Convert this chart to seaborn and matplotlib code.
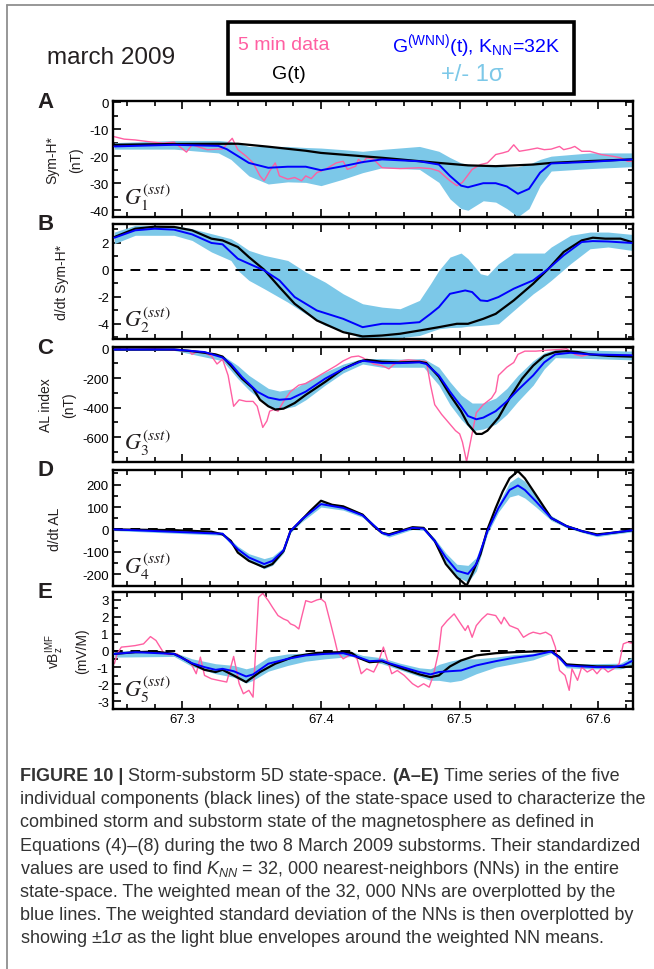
import matplotlib
matplotlib.use("Agg")
import matplotlib.pyplot as plt
import seaborn as sns
from matplotlib.ticker import MultipleLocator
from matplotlib.lines import Line2D
from matplotlib.patches import Rectangle

# ---------------- data (day of year 2009) ----------------
A_black_t = [67.251, 67.294, 67.340, 67.362, 67.389, 67.400, 67.444, 67.485, 67.506, 67.526, 67.553, 67.566, 67.594, 67.624]
A_black = [-15.8, -15.5, -15.4, -16.5, -18.0, -18.8, -20.6, -22.5, -23.4, -23.7, -23.1, -22.5, -21.8, -21.2]
A_blue_t = [67.251, 67.294, 67.326, 67.332, 67.348, 67.362, 67.376, 67.389, 67.400, 67.416, 67.430, 67.444, 67.471,
            67.485, 67.493, 67.501, 67.506, 67.517, 67.526, 67.534, 67.542, 67.550, 67.558, 67.566, 67.594, 67.624]
A_blue = [-16.4, -15.8, -16.2, -17.4, -22.5, -24.3, -23.9, -23.9, -25.2, -23.7, -22.2, -21.2, -21.9,
          -23.1, -27.3, -30.9, -31.5, -30.0, -30.0, -31.2, -33.9, -32.1, -26.1, -22.7, -22.1, -21.2]
A_band_t = [67.251, 67.294, 67.326, 67.335, 67.348, 67.362, 67.376, 67.389, 67.400, 67.416, 67.430, 67.444, 67.471,
            67.485, 67.493, 67.501, 67.506, 67.517, 67.526, 67.534, 67.542, 67.550, 67.558, 67.566, 67.594, 67.624]
A_upper = [-15.0, -14.2, -14.2, -14.6, -16.4, -16.4, -16.4, -16.8, -17.0, -17.6, -18.2, -17.5, -16.4,
           -18.2, -20.5, -22.5, -23.0, -23.4, -23.6, -23.9, -23.9, -23.0, -21.2, -20.0, -18.8, -18.8]
A_lower = [-17.4, -17.4, -18.8, -21.2, -27.3, -30.3, -29.5, -29.7, -30.9, -28.5, -26.1, -24.3, -24.9,
           -29.7, -35.8, -39.4, -40.0, -36.5, -37.0, -39.4, -42.4, -39.4, -30.9, -25.5, -24.6, -23.9]
A_pink_t = [67.251, 67.258, 67.266, 67.275, 67.286, 67.294, 67.303, 67.307, 67.318, 67.329, 67.336, 67.340, 67.346,
            67.351, 67.356, 67.359, 67.363, 67.367, 67.370, 67.376, 67.381, 67.386, 67.389, 67.393, 67.397, 67.403,
            67.411, 67.416, 67.419, 67.425, 67.427, 67.430, 67.433, 67.438, 67.444, 67.457, 67.471, 67.479, 67.485,
            67.493, 67.498, 67.502, 67.509, 67.515, 67.520, 67.526, 67.531, 67.535, 67.539, 67.543, 67.550, 67.556,
            67.561, 67.566, 67.572, 67.575, 67.580, 67.583, 67.588, 67.594, 67.602, 67.610, 67.616, 67.621, 67.624]
A_pink = [-12.8, -13.7, -14.0, -14.6, -15.2, -14.8, -18.5, -15.8, -17.6, -17.3, -13.4, -17.6, -20.0,
          -22.5, -27.3, -29.1, -25.5, -22.5, -27.3, -28.5, -27.9, -29.1, -27.3, -28.3, -26.1, -24.9,
          -22.5, -21.9, -24.9, -23.7, -21.2, -22.5, -20.6, -21.2, -24.3, -24.6, -24.3, -24.6, -25.5,
          -29.1, -30.9, -29.7, -24.9, -23.1, -22.5, -19.4, -18.8, -18.2, -15.8, -18.2, -17.6, -17.0,
          -17.6, -17.4, -16.4, -17.6, -17.0, -16.4, -18.2, -18.2, -19.4, -20.0, -20.6, -21.9, -21.9]

B_black_t = [67.251, 67.266, 67.280, 67.294, 67.307, 67.321, 67.329, 67.340, 67.348, 67.359, 67.370, 67.381, 67.397,
             67.416, 67.430, 67.444, 67.457, 67.471, 67.485, 67.498, 67.506, 67.517, 67.526, 67.539, 67.553, 67.564,
             67.575, 67.588, 67.596, 67.605, 67.616, 67.624]
B_black = [2.43, 3.05, 3.20, 3.18, 2.93, 2.31, 2.18, 1.69, 0.94, 0.0, -1.29, -2.53, -3.77,
           -4.64, -4.96, -4.89, -4.76, -4.52, -4.27, -4.02, -4.02, -3.65, -3.28, -2.28, -1.04, 0.07,
           1.32, 2.18, 2.38, 2.31, 2.31, 2.06]
B_blue_t = [67.251, 67.266, 67.280, 67.294, 67.307, 67.321, 67.329, 67.340, 67.348, 67.359, 67.370, 67.381, 67.397,
            67.416, 67.430, 67.444, 67.457, 67.471, 67.479, 67.485, 67.493, 67.504, 67.509, 67.515, 67.520, 67.528,
            67.539, 67.553, 67.564, 67.575, 67.588, 67.596, 67.607, 67.624]
B_blue = [2.38, 2.93, 3.05, 2.98, 2.63, 1.99, 1.89, 0.82, 0.45, -0.05, -0.79, -2.03, -3.03,
          -3.65, -4.27, -4.02, -4.02, -3.90, -3.28, -2.78, -1.79, -1.54, -1.66, -2.28, -2.33, -2.03,
          -1.41, -0.79, 0.07, 1.07, 2.06, 2.13, 2.10, 1.99]
B_band_t = [67.251, 67.266, 67.294, 67.307, 67.321, 67.335, 67.340, 67.348, 67.359, 67.376, 67.389, 67.403, 67.416,
            67.430, 67.444, 67.457, 67.471, 67.479, 67.485, 67.493, 67.501, 67.506, 67.515, 67.520, 67.528, 67.539,
            67.553, 67.561, 67.566, 67.580, 67.594, 67.607, 67.624]
B_upper = [2.80, 3.30, 3.30, 3.05, 2.68, 2.31, 2.00, 1.44, 1.07, 0.69, -0.17, -0.92, -1.79,
           -2.53, -2.78, -2.90, -2.28, -1.04, -0.05, 0.94, 1.24, 0.82, -0.30, -0.42, 0.45, 1.24,
           1.24, 1.24, 1.69, 2.56, 2.80, 2.80, 2.63]
B_lower = [1.94, 2.56, 2.56, 2.18, 1.32, 0.69, -0.05, -0.79, -1.41, -2.41, -3.28, -4.14, -4.52,
           -5.14, -5.01, -5.05, -4.89, -4.60, -4.39, -4.30, -4.27, -4.20, -4.14, -4.10, -4.02, -3.03,
           -1.79, -1.20, -0.79, 0.45, 1.56, 1.69, 1.44]

C_black_t = [67.251, 67.294, 67.307, 67.316, 67.324, 67.329, 67.335, 67.343, 67.351, 67.356, 67.362, 67.367, 67.373,
             67.381, 67.389, 67.403, 67.416, 67.427, 67.433, 67.438, 67.444, 67.457, 67.471, 67.476, 67.485, 67.493,
             67.501, 67.506, 67.512, 67.516, 67.520, 67.528, 67.536, 67.545, 67.553, 67.561, 67.569, 67.577, 67.585,
             67.594, 67.607, 67.624]
C_black = [-7, -7, -18, -29, -40, -55, -116, -204, -270, -347, -391, -413, -407,
           -369, -314, -226, -138, -90, -77, -83, -90, -94, -90, -99, -191, -314,
           -424, -512, -578, -578, -556, -468, -336, -204, -116, -50, -24, -18, -24,
           -40, -50, -55]
C_blue_t = [67.251, 67.294, 67.316, 67.329, 67.335, 67.343, 67.354, 67.362, 67.370, 67.378, 67.389, 67.403, 67.416,
            67.430, 67.444, 67.457, 67.471, 67.476, 67.485, 67.493, 67.501, 67.506, 67.512, 67.517, 67.526, 67.534,
            67.542, 67.553, 67.561, 67.569, 67.580, 67.594, 67.624]
C_blue = [-7, -7, -24, -61, -105, -193, -292, -332, -347, -341, -292, -204, -138,
          -83, -99, -99, -94, -105, -182, -292, -391, -457, -479, -468, -424, -358,
          -281, -182, -94, -40, -29, -40, -46]
C_band_t = [67.251, 67.294, 67.329, 67.340, 67.348, 67.362, 67.370, 67.381, 67.389, 67.403, 67.416, 67.430, 67.444,
            67.457, 67.474, 67.485, 67.493, 67.501, 67.509, 67.517, 67.526, 67.534, 67.542, 67.553, 67.561, 67.569,
            67.594, 67.624]
C_upper = [-1, -1, -46, -116, -182, -270, -288, -270, -226, -160, -105, -68, -68,
           -72, -68, -127, -226, -314, -369, -369, -336, -270, -182, -83, -29, -7,
           -11, -18]
C_lower = [-13, -13, -83, -204, -281, -391, -413, -391, -347, -248, -165, -105, -127,
           -127, -127, -248, -380, -479, -556, -545, -512, -446, -358, -248, -138, -62,
           -68, -77]
C_pink_t = [67.251, 67.266, 67.280, 67.294, 67.305, 67.307, 67.310, 67.316, 67.321, 67.325, 67.329, 67.333, 67.337,
            67.341, 67.346, 67.351, 67.354, 67.358, 67.361, 67.363, 67.366, 67.369, 67.373, 67.378, 67.384, 67.389,
            67.397, 67.403, 67.411, 67.416, 67.422, 67.427, 67.430, 67.438, 67.444, 67.449, 67.452, 67.457, 67.463,
            67.471, 67.476, 67.479, 67.482, 67.487, 67.493, 67.497, 67.500, 67.502, 67.505, 67.508, 67.512, 67.517,
            67.523, 67.526, 67.528, 67.534, 67.539, 67.542, 67.547, 67.555, 67.564, 67.572, 67.577, 67.583, 67.588,
            67.594, 67.602, 67.610, 67.624]
C_pink = [-2, -7, -2, -11, -18, -40, -24, -29, -51, -105, -73, -182, -391,
          -347, -358, -358, -391, -534, -490, -424, -413, -424, -358, -292, -248, -237,
          -193, -160, -116, -84, -57, -51, -62, -105, -116, -138, -112, -84, -77,
          -84, -90, -248, -380, -446, -512, -556, -578, -633, -765, -622, -435, -380,
          -336, -292, -182, -127, -95, -40, -18, -18, -11, -7, -2, -40, -51,
          -40, -46, -46, -46]

D_black_t = [67.251, 67.294, 67.321, 67.329, 67.335, 67.340, 67.348, 67.359, 67.365, 67.373, 67.378, 67.384, 67.392,
             67.400, 67.408, 67.416, 67.430, 67.438, 67.444, 67.449, 67.457, 67.466, 67.474, 67.482, 67.490, 67.498,
             67.505, 67.509, 67.515, 67.520, 67.526, 67.531, 67.536, 67.542, 67.547, 67.555, 67.566, 67.577, 67.588,
             67.599, 67.610, 67.624]
D_black = [0, -3, -10, -22, -51, -103, -140, -169, -154, -96, -7, 29, 81,
           128, 110, 103, 66, 15, -15, -22, -7, 10, 7, -51, -154, -213,
           -250, -198, -110, 0, 96, 169, 228, 260, 228, 154, 51, 15, -7,
           -22, -15, -4]
D_blue_t = [67.251, 67.329, 67.340, 67.348, 67.359, 67.365, 67.373, 67.378, 67.386, 67.400, 67.416, 67.430, 67.444,
            67.449, 67.466, 67.474, 67.482, 67.490, 67.498, 67.506, 67.512, 67.520, 67.528, 67.536, 67.542, 67.547,
            67.555, 67.566, 67.577, 67.588, 67.599, 67.610, 67.624]
D_blue = [0, -19, -88, -125, -154, -140, -93, -7, 44, 113, 96, 63, -15,
          -25, 7, 4, -51, -125, -184, -198, -154, -7, 96, 176, 196, 176,
          125, 51, 15, -7, -25, -15, -4]
D_upper = [5, -12, -75, -108, -130, -120, -80, 0, 55, 123, 106, 72, -8,
           -16, 14, 12, -40, -105, -155, -160, -125, 5, 115, 210, 235, 215,
           150, 62, 22, -1, -18, -8, 3]
D_lower = [-5, -26, -100, -140, -175, -160, -105, -15, 33, 100, 86, 54, -22,
           -34, 0, -4, -62, -145, -210, -235, -185, -20, 78, 145, 155, 140,
           100, 40, 8, -13, -32, -22, -11]

E_black_t = [67.251, 67.266, 67.280, 67.294, 67.299, 67.307, 67.316, 67.324, 67.329, 67.337, 67.346, 67.348, 67.356,
             67.367, 67.381, 67.397, 67.414, 67.422, 67.427, 67.435, 67.444, 67.449, 67.457, 67.471, 67.479, 67.485,
             67.493, 67.501, 67.512, 67.526, 67.539, 67.553, 67.566, 67.572, 67.577, 67.588, 67.599, 67.610, 67.618,
             67.624]
E_black = [-0.20, -0.10, -0.06, -0.20, -0.39, -0.78, -1.14, -1.27, -1.14, -1.47, -1.86, -1.73, -1.27,
           -0.78, -0.35, -0.14, -0.10, -0.14, -0.43, -0.69, -0.63, -0.78, -1.02, -1.41, -1.57, -1.47,
           -0.94, -0.59, -0.29, -0.16, -0.10, -0.06, -0.04, -0.39, -0.82, -0.88, -0.94, -0.94, -0.98,
           -0.94]
E_blue_t = [67.251, 67.266, 67.294, 67.307, 67.316, 67.324, 67.329, 67.337, 67.346, 67.351, 67.362, 67.376, 67.389,
            67.403, 67.416, 67.427, 67.435, 67.444, 67.449, 67.457, 67.471, 67.479, 67.485, 67.493, 67.501, 67.512,
            67.526, 67.539, 67.553, 67.566, 67.572, 67.577, 67.588, 67.599, 67.610, 67.618, 67.624]
E_blue = [-0.20, -0.10, -0.20, -0.75, -0.98, -1.14, -1.08, -1.22, -1.53, -1.41, -0.78, -0.49, -0.29,
          -0.20, -0.16, -0.39, -0.63, -0.59, -0.75, -0.94, -1.27, -1.41, -1.27, -1.22, -1.18, -0.88,
          -0.63, -0.43, -0.29, -0.06, -0.43, -0.88, -0.94, -0.98, -0.98, -0.88, -0.63]
E_band_t = [67.251, 67.294, 67.307, 67.324, 67.337, 67.346, 67.351, 67.362, 67.376, 67.389, 67.403, 67.422, 67.430,
            67.444, 67.457, 67.471, 67.479, 67.485, 67.493, 67.501, 67.512, 67.526, 67.539, 67.553, 67.566, 67.572,
            67.577, 67.594, 67.616, 67.624]
E_upper = [0.00, -0.10, -0.49, -0.78, -0.88, -1.08, -0.98, -0.39, -0.20, -0.15, -0.10, -0.06, -0.29,
           -0.43, -0.75, -1.02, -1.08, -0.82, -0.63, -0.49, -0.49, -0.39, -0.24, -0.16, 0.00, -0.29,
           -0.75, -0.78, -0.75, -0.40]
E_lower = [-0.39, -0.35, -0.94, -1.37, -1.57, -1.92, -1.76, -1.22, -0.88, -0.63, -0.49, -0.35, -0.55,
           -0.78, -1.14, -1.53, -1.76, -1.76, -1.86, -1.76, -1.37, -0.98, -0.78, -0.55, -0.16, -0.55,
           -1.02, -1.08, -1.08, -0.90]
E_pink_t = [67.251, 67.253, 67.256, 67.261, 67.266, 67.272, 67.277, 67.281, 67.287, 67.291, 67.296, 67.301, 67.305,
            67.307, 67.310, 67.313, 67.316, 67.321, 67.326, 67.332, 67.337, 67.341, 67.344, 67.348, 67.351, 67.355,
            67.358, 67.362, 67.365, 67.369, 67.373, 67.376, 67.378, 67.381, 67.384, 67.386, 67.389, 67.393, 67.397,
            67.400, 67.403, 67.407, 67.410, 67.412, 67.416, 67.422, 67.426, 67.429, 67.433, 67.438, 67.441, 67.445,
            67.448, 67.451, 67.455, 67.460, 67.466, 67.470, 67.474, 67.478, 67.481, 67.485, 67.487, 67.491, 67.496,
            67.500, 67.504, 67.506, 67.509, 67.512, 67.516, 67.520, 67.526, 67.530, 67.532, 67.536, 67.542, 67.546,
            67.550, 67.553, 67.558, 67.562, 67.566, 67.569, 67.572, 67.576, 67.579, 67.581, 67.585, 67.588, 67.592,
            67.596, 67.599, 67.603, 67.607, 67.611, 67.615, 67.618, 67.621, 67.624]
E_pink = [-0.78, -0.20, 0.20, 0.24, 0.29, 0.39, 0.82, 0.59, -0.20, -0.24, -0.20, -0.49, -0.59,
          -0.88, -1.37, -0.39, -1.47, -1.67, -1.76, -1.86, -0.35, -1.96, -2.55, -2.35, -2.75, 3.14,
          3.37, 2.94, 2.55, 2.06, 1.86, 1.76, 1.57, 1.47, 1.27, 1.96, 2.94, 2.84, 2.98,
          3.04, 2.84, 1.57, 0.59, -0.10, -0.49, -0.20, -0.49, -1.37, -1.08, -1.27, -0.78, 0.20,
          -0.59, -1.37, -1.18, -1.47, -1.96, -2.16, -1.96, -2.16, -1.47, 0.00, 1.37, 1.76, 2.16,
          1.67, 1.18, 1.47, 0.78, 1.47, 1.86, 2.16, 2.06, 1.57, 1.96, 1.47, 1.27, 0.78,
          0.98, 1.08, 0.98, 1.08, 0.88, 0.20, -1.18, -1.47, -2.35, -1.08, -1.76, -0.98, -1.27,
          -1.08, -1.37, -0.98, -1.27, -1.08, -0.78, 0.39, 0.49, 0.43]

x_ticks = [67.3, 67.4, 67.5, 67.6]
x_tick_labels = ["67.3", "67.4", "67.5", "67.6"]
A_yticks = [0, -10, -20, -30, -40]
B_yticks = [2, 0, -2, -4]
C_yticks = [0, -200, -400, -600]
D_yticks = [200, 100, 0, -100, -200]
E_yticks = [3, 2, 1, 0, -1, -2, -3]
panel_letters = ["A", "B", "C", "D", "E"]
ylabels = ["Sym-H*\n(nT)", "d/dt Sym-H*", "AL index\n(nT)", "d/dt AL",
           "vB$_\\mathregular{z}^\\mathregular{IMF}$\n(mV/M)"]

# ---------------- style ----------------
sns.set_theme(style="ticks")
plt.rcParams["font.family"] = ["Liberation Sans", "DejaVu Sans"]
plt.rcParams["axes.unicode_minus"] = False
plt.rcParams["mathtext.fontset"] = "custom"
plt.rcParams["mathtext.rm"] = "Liberation Sans"
plt.rcParams["mathtext.it"] = "Liberation Sans:italic"
plt.rcParams["mathtext.bf"] = "Liberation Sans:bold"

PINK = "#FF5FA2"
BLUE = "#0000FF"
BAND = "#7CC8E8"
TXT = "#231F20"
CAP = "#333333"

W, H = 654, 970
fig = plt.figure(figsize=(W / 100, H / 100), dpi=100)

# panel pixel boxes (top, bottom)
boxes = [(102, 218), (225, 340), (348, 463), (471, 587), (593, 710)]
left_px, right_px = 113, 633
label_x = [-0.058, -0.085, -0.071, -0.098, -0.046]

panels = [
    dict(pink=(A_pink_t, A_pink), black=(A_black_t, A_black), blue=(A_blue_t, A_blue),
         band=(A_band_t, A_lower, A_upper), ylim=(-42.5, 0.4), yt=A_yticks, minor=5, zero=False),
    dict(pink=None, black=(B_black_t, B_black), blue=(B_blue_t, B_blue),
         band=(B_band_t, B_lower, B_upper), ylim=(-5.15, 3.4), yt=B_yticks, minor=1, zero=True),
    dict(pink=(C_pink_t, C_pink), black=(C_black_t, C_black), blue=(C_blue_t, C_blue),
         band=(C_band_t, C_lower, C_upper), ylim=(-768, 10), yt=C_yticks, minor=100, zero=False),
    dict(pink=None, black=(D_black_t, D_black), blue=(D_blue_t, D_blue),
         band=(D_blue_t, D_lower, D_upper), ylim=(-252, 265), yt=D_yticks, minor=50, zero=True),
    dict(pink=(E_pink_t, E_pink), black=(E_black_t, E_black), blue=(E_blue_t, E_blue),
         band=(E_band_t, E_lower, E_upper), ylim=(-3.45, 3.45), yt=E_yticks, minor=0.5, zero=True),
]

for i, (p, (top, bot)) in enumerate(zip(panels, boxes)):
    ax = fig.add_axes([left_px / W, 1 - bot / H, (right_px - left_px) / W, (bot - top) / H])
    t, lo, hi = p["band"]
    ax.fill_between(t, lo, hi, color=BAND, lw=0, zorder=1)
    if p["zero"]:
        ax.axhline(0, color="black", lw=1.4, ls=(0, (5, 4)), zorder=1.5)
    if p["pink"] is not None:
        sns.lineplot(x=p["pink"][0], y=p["pink"][1], ax=ax, color=PINK, lw=1.0,
                     estimator=None, sort=False, legend=False, zorder=2)
    sns.lineplot(x=p["black"][0], y=p["black"][1], ax=ax, color="black", lw=1.6,
                 estimator=None, sort=False, legend=False, zorder=3)
    sns.lineplot(x=p["blue"][0], y=p["blue"][1], ax=ax, color=BLUE, lw=1.4,
                 estimator=None, sort=False, legend=False, zorder=4)

    ax.set_xlim(67.25, 67.625)
    ax.set_ylim(*p["ylim"])
    ax.set_yticks(p["yt"])
    ax.set_yticklabels([str(v) for v in p["yt"]])
    ax.yaxis.set_minor_locator(MultipleLocator(p["minor"]))
    ax.set_xticks(x_ticks)
    ax.xaxis.set_minor_locator(MultipleLocator(0.02))
    if i == 4:
        ax.set_xticklabels(x_tick_labels)
    else:
        ax.set_xticklabels([])
    ax.tick_params(which="both", direction="in", top=True, right=True, width=1.2,
                   colors="black", labelsize=9.5, pad=3)
    ax.tick_params(which="major", length=6)
    ax.tick_params(which="minor", length=3.5)
    for s in ax.spines.values():
        s.set_linewidth(1.7)
        s.set_color("black")
    ax.set_xlabel("")
    ax.set_ylabel(ylabels[i], fontsize=10, linespacing=1.85, color=TXT)
    ax.yaxis.set_label_coords(label_x[i], 0.5)
    ax.text(-0.13, 1.0, panel_letters[i], transform=ax.transAxes, fontsize=16,
            fontweight="bold", ha="center", va="center", color=TXT)
    ax.text(0.022, 0.11, "$G_{%d}^{(sst)}$" % (i + 1), transform=ax.transAxes,
            fontsize=16, math_fontfamily="stix", ha="left", va="baseline", color=TXT)

# ---------------- header ----------------
fig.text(111 / W, 1 - 58 / H, "march 2009", fontsize=17.5, ha="center", va="center", color=TXT)
fig.add_artist(Rectangle((228 / W, 1 - 95 / H), (574 - 228) / W, 72 / H, transform=fig.transFigure,
                         fill=False, lw=2.6, ec="black"))
fig.text(284 / W, 1 - 46 / H, "5 min data", fontsize=14, color=PINK, ha="center", va="center")
fig.text(476 / W, 1 - 46 / H, "G$^\\mathregular{(WNN)}$(t), K$_\\mathregular{NN}$=32K",
         fontsize=14, color=BLUE, ha="center", va="center")
fig.text(289 / W, 1 - 75 / H, "G(t)", fontsize=14, color="black", ha="center", va="center")
fig.text(472 / W, 1 - 75 / H, "+/- 1σ", fontsize=17, color=BAND, ha="center", va="center")

# outer frame (journal figure box)
fig.add_artist(Line2D([7 / W, 1.0], [1 - 6 / H, 1 - 6 / H], transform=fig.transFigure, color="#8f8f8f", lw=1.3))
fig.add_artist(Line2D([7 / W, 7 / W], [0.0, 1 - 6 / H], transform=fig.transFigure, color="#8f8f8f", lw=1.3))

# ---------------- caption ----------------
cap_lines = [
    [("FIGURE 10 |", "bold"), ("Storm-substorm 5D state-space.", "normal"), ("(A–E)", "bold"),
     ("Time series of the five", "normal")],
    [("individual components (black lines) of the state-space used to characterize the", "normal")],
    [("combined storm and substorm state of the magnetosphere as defined in", "normal")],
    [("Equations (4)–(8) during the two 8 March 2009 substorms. Their standardized", "normal")],
    [("values are used to find $K_{NN}$ = 32, 000 nearest-neighbors (NNs) in the entire", "normal")],
    [("state-space. The weighted mean of the 32, 000 NNs are overplotted by the", "normal")],
    [("blue lines. The weighted standard deviation of the NNs is then overplotted by", "normal")],
    [("showing $\\pm1\\sigma$ as the light blue envelopes around the weighted NN means.", "normal")],
]
CAP_FS = 13.0
renderer = fig.canvas.get_renderer()
probe1 = fig.text(0, 0, "x x", fontsize=CAP_FS)
probe2 = fig.text(0, 0, "xx", fontsize=CAP_FS)
space_w = probe1.get_window_extent(renderer).width - probe2.get_window_extent(renderer).width
probe1.remove()
probe2.remove()
y0, dy = 781, 23.2
for k, parts in enumerate(cap_lines):
    x = 20.0
    for txt, wgt in parts:
        tt = fig.text(x / W, 1 - (y0 + k * dy) / H, txt, fontsize=CAP_FS, fontweight=wgt,
                      color=CAP, ha="left", va="baseline")
        x += tt.get_window_extent(renderer).width + space_w

fig.savefig("out.png", dpi=100)
